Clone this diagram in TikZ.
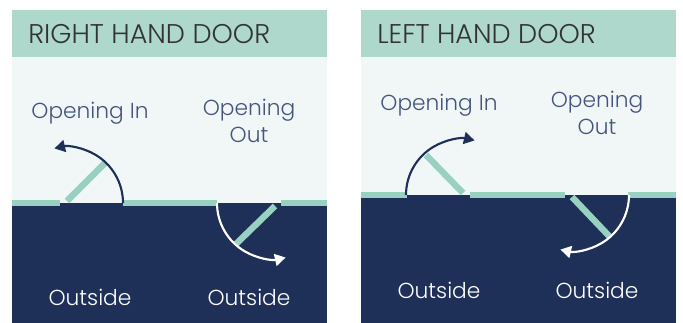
\documentclass[tikz,border=0pt]{standalone}
\usepackage{fontspec}
\setmainfont{Poppins Light}
\usetikzlibrary{arrows.meta, positioning}
\definecolor{headteal}{HTML}{AED8CB}
\definecolor{wallteal}{HTML}{98D1BF}
\definecolor{paleroom}{HTML}{F1F7F7}
\definecolor{navyroom}{HTML}{1E3058}
\definecolor{inktext}{HTML}{43557D}
\begin{document}
\begin{tikzpicture}[
    x=0.75pt, y=-0.75pt,
    title/.style={font=\fontsize{20.3}{24}\selectfont, text=black!80, anchor=west, inner sep=0pt},
    inlabel/.style={font=\fontsize{16.3}{20}\selectfont, text=inktext, inner sep=0pt},
    outlabel/.style={font=\fontsize{16.3}{20}\selectfont, text=white, inner sep=0pt},
    wallseg/.style={draw=wallteal, line width=4.6pt},
    doorleaf/.style={draw=wallteal, line width=4.8pt},
    swingin/.style={draw=navyroom, line width=1.6pt, -{Triangle[length=8pt, width=9pt]}},
    swingout/.style={draw=white, line width=1.6pt, -{Triangle[length=8pt, width=9pt]}}
]
\useasboundingbox (0,0) rectangle (683,323);
\fill[headteal] (12,10) rectangle (327,57);
\fill[paleroom] (12,57) rectangle (327,203);
\fill[navyroom] (12,203) rectangle (327,323);
\fill[headteal] (361,10) rectangle (676,57);
\fill[paleroom] (361,57) rectangle (676,195);
\fill[navyroom] (361,195) rectangle (676,323);

\node[title] (rightTitle) at (28,34) {RIGHT HAND DOOR};
\node[inlabel] (rightIn) at (90,113.5) {Opening In};
\node[inlabel] (rightOutA) at (249,110.5) {Opening};
\node[inlabel] (rightOutB) at (249,135) {Out};
\node[outlabel] (rightOutsideA) at (90,297) {Outside};
\node[outlabel] (rightOutsideB) at (249,297) {Outside};

\node[title] (leftTitle) at (377,34) {LEFT HAND DOOR};
\node[inlabel] (leftIn) at (439,105.5) {Opening In};
\node[inlabel] (leftOutA) at (597,102.5) {Opening};
\node[inlabel] (leftOutB) at (597,127) {Out};
\node[outlabel] (leftOutsideA) at (439,290) {Outside};
\node[outlabel] (leftOutsideB) at (597,290) {Outside};

\draw[wallseg] (12,203) -- (60,203);
\draw[wallseg] (123,203) -- (217,203);
\draw[wallseg] (281,203) -- (327,203);
\draw[wallseg] (361,195) -- (407,195);
\draw[wallseg] (470,195) -- (565,195);
\draw[wallseg] (628,195) -- (676,195);

\draw[doorleaf] (67,201) -- (105,163);
\draw[doorleaf] (275,206) -- (236,244);
\draw[doorleaf] (463,193) -- (426,155);
\draw[doorleaf] (572,197) -- (610,237);

\draw[swingin] (123,203) arc[start angle=0, end angle=-103, radius=56];
\draw[swingout] (217,203) arc[start angle=180, end angle=77, radius=56];
\draw[swingin] (406,195) arc[start angle=180, end angle=283, radius=56];
\draw[swingout] (629,195) arc[start angle=0, end angle=103, radius=56];
\end{tikzpicture}
\end{document}
